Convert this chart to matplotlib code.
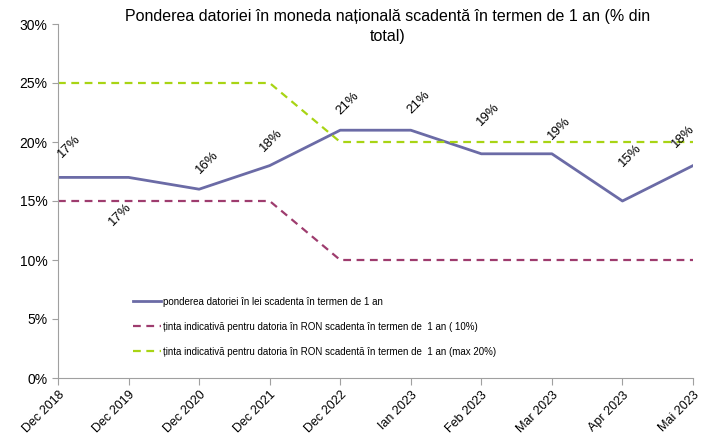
import matplotlib.pyplot as plt
from matplotlib.ticker import FuncFormatter

plt.rcParams['font.family'] = ['Liberation Sans', 'DejaVu Sans']

# ============================================================
# Date
# ============================================================
luni = ['Dec 2018', 'Dec 2019', 'Dec 2020', 'Dec 2021', 'Dec 2022',
        'Ian 2023', 'Feb 2023', 'Mar 2023', 'Apr 2023', 'Mai 2023']
pondere = [17, 17, 16, 18, 21, 21, 19, 19, 15, 18]
tinta_min = [15, 15, 15, 15, 10, 10, 10, 10, 10, 10]
tinta_max = [25, 25, 25, 25, 20, 20, 20, 20, 20, 20]

eticheta_pondere = 'ponderea datoriei în lei scadenta în termen de 1 an'
eticheta_min = 'ținta indicativă pentru datoria în RON scadenta în termen de  1 an ( 10%)'
eticheta_max = 'ținta indicativă pentru datoria în RON scadentă în termen de  1 an (max 20%)'

# deplasarea etichetelor de date (puncte)
offsets = [(8, 22), (-6, -27), (6, 19), (1, 18), (5, 19),
           (6, 20), (5, 28), (5, 18), (6, 33), (-7, 21)]

# ============================================================
# Grafic
# ============================================================
fig = plt.figure(figsize=(7.1, 4.43), dpi=100)
ax = fig.add_axes([58/710, 65/443, 635/710, 354/443])

x = list(range(len(luni)))
ax.plot(x, pondere, color='#6B6BA6', linewidth=2, label=eticheta_pondere)
ax.plot(x, tinta_min, color='#9E3C6E', linewidth=1.6, linestyle=(0, (3.5, 2.5)), label=eticheta_min)
ax.plot(x, tinta_max, color='#A8D414', linewidth=1.6, linestyle=(0, (3.5, 2.5)), label=eticheta_max)

for xi, v, off in zip(x, pondere, offsets):
    ax.annotate(f'{v}%', (xi, v), xytext=off, textcoords='offset points',
                rotation=45, ha='center', va='center', fontsize=9.5)

ax.set_xlim(0, len(luni) - 1)
ax.set_ylim(0, 30)
ax.set_yticks(range(0, 31, 5))
ax.yaxis.set_major_formatter(FuncFormatter(lambda v, p: f'{v:.0f}%'))
ax.set_xticks(x)
ax.set_xticklabels(luni, rotation=45, ha='right', rotation_mode='anchor', fontsize=9)
ax.tick_params(axis='y', labelsize=10, length=4, color='#A0A0A0')
ax.tick_params(axis='x', length=5, color='#A0A0A0', pad=3)

for s in ['top', 'right']:
    ax.spines[s].set_visible(False)
for s in ['left', 'bottom']:
    ax.spines[s].set_color('#A0A0A0')

ax.legend(loc='lower left', bbox_to_anchor=(0.105, 0.035), frameon=False, fontsize=7,
          labelspacing=1.55, handlelength=2.8, handletextpad=0.2)

fig.text(388/710, 1 - 9/443, 'Ponderea datoriei în moneda națională scadentă în termen de 1 an (% din\ntotal)',
         ha='center', va='top', fontsize=11.5, linespacing=1.4)

plt.savefig('out.png', dpi=100)
